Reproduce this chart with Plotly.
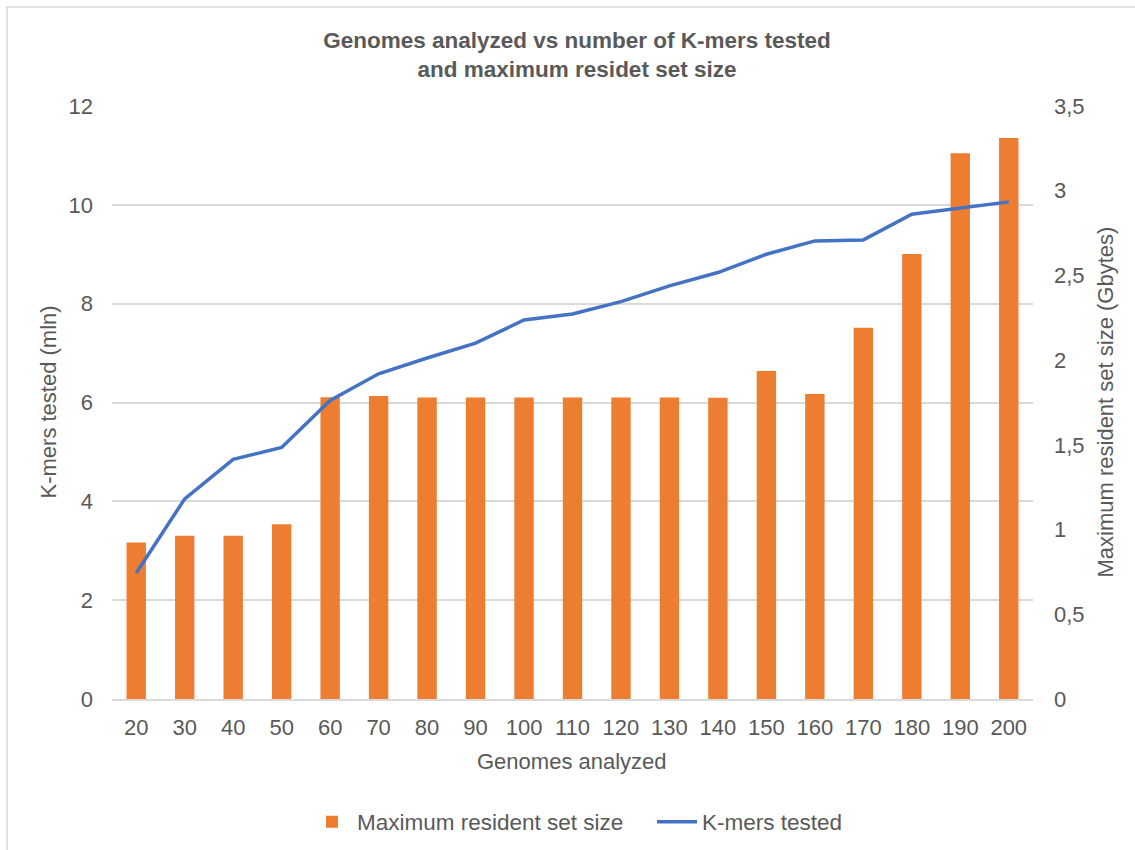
import plotly.graph_objects as go

# ---- data ----
genomes = ["20", "30", "40", "50", "60", "70", "80", "90", "100", "110",
           "120", "130", "140", "150", "160", "170", "180", "190", "200"]
max_rss_gb = [0.924, 0.963, 0.963, 1.032, 1.781, 1.789, 1.780, 1.780, 1.780, 1.780,
              1.780, 1.780, 1.778, 1.936, 1.800, 2.191, 2.626, 3.221, 3.311]
kmers_mln = [2.55, 4.05, 4.85, 5.09, 6.04, 6.58, 6.90, 7.20, 7.67, 7.79,
             8.04, 8.36, 8.63, 9.00, 9.27, 9.29, 9.81, 9.93, 10.06]
left_ticks = [0, 2, 4, 6, 8, 10, 12]
right_tickvals = [0, 0.5, 1, 1.5, 2, 2.5, 3, 3.5]
right_ticktext = ["0", "0,5", "1", "1,5", "2", "2,5", "3", "3,5"]

FONT = "Liberation Sans, Arial, sans-serif"
TXT = "#595959"
GRID = "#D9D9D9"

fig = go.Figure()
fig.add_trace(go.Bar(
    x=genomes, y=max_rss_gb, name="Maximum resident set size",
    marker=dict(color="#ED7D31", line=dict(width=0)), yaxis="y",
))
fig.add_trace(go.Scatter(
    x=genomes, y=kmers_mln, name="K-mers tested", mode="lines",
    line=dict(color="#4472C4", width=3.5), yaxis="y2",
))

L, R, T, B = 112, 102, 106, 151
W, H = 1135, 850
pw, ph = W - L - R, H - T - B


def px_x(px):
    return (px - L) / pw


def px_y(py):
    return (H - B - py) / ph


fig.update_layout(
    width=W, height=H,
    margin=dict(l=L, r=R, t=T, b=B, autoexpand=False),
    paper_bgcolor="white", plot_bgcolor="white",
    font=dict(family=FONT, size=22, color=TXT),
    bargap=0.6,
    title=dict(
        text="Genomes analyzed vs number of K-mers tested<br>and maximum residet set size",
        font=dict(family=FONT, size=22.5, color=TXT, weight="bold"),
        x=577 / W, xref="container", xanchor="center",
        y=1 - 48 / H, yref="container", yanchor="middle",
    ),
    xaxis=dict(
        type="category", showgrid=False, showline=True, linecolor=GRID, linewidth=1.5,
        ticks="", ticklabelstandoff=8, automargin=False,
        tickfont=dict(size=22, color=TXT),
    ),
    yaxis=dict(
        side="right", range=[0, 3.5], tickvals=right_tickvals, ticktext=right_ticktext,
        showgrid=False, zeroline=False, ticks="", ticklabelstandoff=20, automargin=False,
        tickfont=dict(size=22, color=TXT),
    ),
    yaxis2=dict(
        overlaying="y", side="left", range=[0, 12], tickvals=left_ticks,
        showgrid=True, gridcolor=GRID, gridwidth=1.5, zeroline=False, ticks="",
        ticklabelstandoff=18, automargin=False,
        tickfont=dict(size=22, color=TXT),
    ),
    legend=dict(
        orientation="h", x=px_x(307), xanchor="left",
        y=px_y(822), yanchor="middle",
        font=dict(size=22.5, color=TXT), traceorder="normal",
        itemwidth=40, entrywidth=290,
        bgcolor="rgba(0,0,0,0)",
    ),
    showlegend=True,
    annotations=[
        dict(text="Genomes analyzed", xref="paper", yref="paper",
             x=px_x(572), y=px_y(761), xanchor="center", yanchor="middle",
             showarrow=False, font=dict(size=22, color=TXT)),
        dict(text="K-mers tested (mln)", xref="paper", yref="paper",
             x=px_x(48), y=0.5, xanchor="center", yanchor="middle", textangle=-90,
             showarrow=False, font=dict(size=22, color=TXT)),
        dict(text="Maximum resident set size (Gbytes)", xref="paper", yref="paper",
             x=px_x(1105), y=0.5, xanchor="center", yanchor="middle", textangle=-90,
             showarrow=False, font=dict(size=22, color=TXT)),
    ],
    shapes=[dict(
        type="rect", xref="paper", yref="paper", layer="below",
        x0=px_x(7), x1=px_x(W + 10),
        y0=px_y(H + 10), y1=px_y(7),
        line=dict(color=GRID, width=1.5), fillcolor="rgba(0,0,0,0)",
    )],
)

fig.write_html("out.html")
